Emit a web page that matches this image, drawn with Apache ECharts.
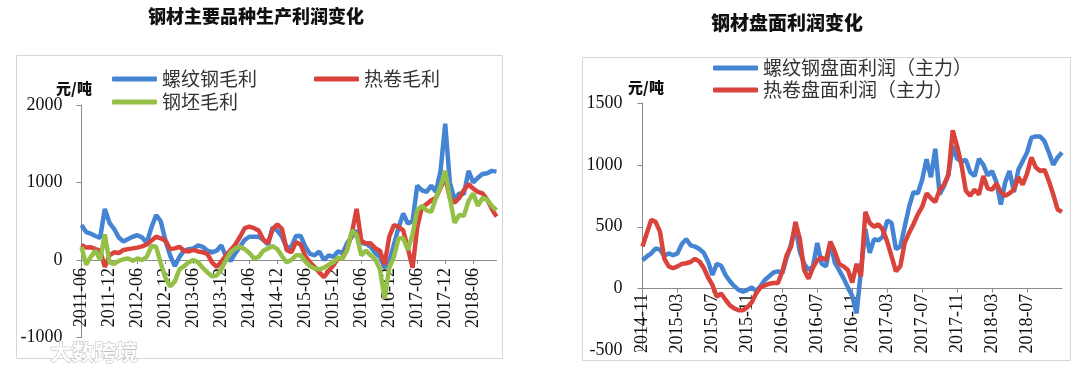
<!DOCTYPE html>
<html>
<head>
<meta charset="utf-8">
<script src="https://cdn.jsdelivr.net/npm/echarts@6/dist/echarts.min.js"></script>
<style>
html,body{margin:0;padding:0;background:#fff;}
#chart{width:1080px;height:373px;}
</style>
</head>
<body>
<div id="chart"></div>
<script>
// ---------- data (left chart: monthly 2011-06 .. 2018-11) ----------
const leftTickLabels = ['2011-06','2011-12','2012-06','2012-12','2013-06','2013-12','2014-06','2014-12','2015-06','2015-12','2016-06','2016-12','2017-06','2017-12','2018-06'];
const rebarGross = [450,360,340,310,285,660,480,400,290,240,
270,300,320,290,220,420,580,500,250,60,
-80,40,120,140,150,190,170,120,100,120,
190,40,-10,90,170,260,300,300,300,260,
200,420,380,300,160,170,310,310,170,80,
60,110,0,60,40,110,90,220,300,380,
220,210,170,90,40,-100,-20,200,420,600,
470,500,960,900,880,960,880,1150,1760,1000,
780,860,850,1150,1000,1060,1110,1120,1150,1140];
const hotCoilGross = [195,160,165,140,120,-90,60,100,90,130,
140,150,160,175,200,250,300,280,250,140,
150,170,120,110,130,110,100,80,-30,-90,
-20,60,130,200,300,410,430,410,380,260,
220,400,460,400,130,100,230,200,50,-30,
-90,-160,-220,-140,-70,20,30,150,350,660,
250,215,215,150,120,-60,300,450,430,380,
150,-100,420,680,720,770,800,930,1060,800,
740,800,900,980,920,880,860,780,660,560];
const billetGross = [170,-60,40,120,0,330,-30,-50,-10,10,
20,-10,20,0,40,180,170,-40,-230,-340,
-280,-120,-80,-30,0,-30,-100,-160,-210,-200,
-120,0,100,150,170,140,90,20,40,120,
150,180,140,50,-30,0,60,60,-20,-80,
-110,-120,-100,-60,-30,30,20,130,380,320,
60,120,60,10,-120,-500,-100,40,280,280,
130,330,640,700,640,620,800,950,1150,800,
480,580,570,760,860,700,800,780,700,640];

// ---------- data (right chart: half-monthly 2014-11 .. 2018-11) ----------
const rightTickLabels = ['2014-11','2015-03','2015-07','2015-11','2016-03','2016-07','2016-11','2017-03','2017-07','2017-11','2018-03','2018-07'];
const rebarFutures = [230,260,285,325,315,265,285,270,285,360,
400,350,340,320,290,220,110,200,185,110,
60,20,-10,-25,-10,10,-20,20,70,100,
130,140,125,250,360,500,300,200,150,180,
370,200,180,370,210,150,85,10,-60,
-200,150,480,290,400,390,420,550,530,320,
340,500,660,780,770,880,1045,900,1130,760,
830,920,1150,1050,1030,1040,940,910,1050,1000,
915,950,860,680,860,950,780,960,1030,1100,
1220,1230,1230,1190,1100,1000,1060,1100];
const hotCoilFutures = [340,450,555,540,460,240,180,165,180,200,
205,215,240,220,170,90,30,-65,-40,-90,
-135,-160,-175,-175,-150,-110,-40,10,25,40,
45,45,140,270,340,540,400,150,80,170,
230,250,230,380,300,200,180,150,50,
200,100,620,530,500,520,475,380,260,140,
180,370,450,520,600,660,770,730,700,800,
840,920,1280,1150,1000,790,750,800,760,910,
810,800,850,780,750,770,800,900,840,930,
1060,980,950,960,870,760,640,620];

// category strings
const leftCats = [];
for (let y = 2011, m = 6; leftCats.length < rebarGross.length; ) {
  leftCats.push(y + '-' + String(m).padStart(2, '0'));
  m++; if (m > 12) { m = 1; y++; }
}
const rightCats = [];
for (let y = 2014, m = 11; rightCats.length < rebarFutures.length; ) {
  const mm = y + '-' + String(m).padStart(2, '0');
  rightCats.push(mm + '-01');
  if (rightCats.length < rebarFutures.length) rightCats.push(mm + '-16');
  m++; if (m > 12) { m = 1; y++; }
}

const BLUE = '#4584D3', RED = '#D9433B', GREEN = '#94C047';
const AXIS = '#8a8a8a';
const NUMFONT = 'Liberation Serif';
const CJK = 'Noto Sans CJK SC';

// grid geometry
const LG = {left: 81.5, top: 105, width: 415, height: 232.5, min: -1000, max: 2000};
const RG = {left: 642.5, top: 103, width: 419.5, height: 247.5, min: -500, max: 1500};
// distance from grid bottom up to the value-0 line (x axis sits on zero)
const zeroOffset = g => -g.height * (0 - g.min) / (g.max - g.min);

const leftSet = new Set(leftTickLabels);
const rightSet = new Set(rightTickLabels);
const leftShow = (i, v) => leftSet.has(v);
const rightShow = (i, v) => v.endsWith('-01') && rightSet.has(v.slice(0, 7));

const chart = echarts.init(document.getElementById('chart'), null, {renderer: 'canvas'});

const legendText = {fontSize: 19, color: '#333', fontFamily: CJK, lineHeight: 20};

chart.setOption({
  animation: false,
  backgroundColor: '#fff',
  grid: [
    {left: LG.left, top: LG.top, width: LG.width, height: LG.height, containLabel: false, outerBoundsMode: 'none'},
    {left: RG.left, top: RG.top, width: RG.width, height: RG.height, containLabel: false, outerBoundsMode: 'none'}
  ],
  legend: [
    {data: ['螺纹钢毛利', '热卷毛利'], left: 112, top: 69, padding: 0, icon: 'roundRect', itemWidth: 45, itemHeight: 5, itemGap: 57, textStyle: legendText, selectedMode: false},
    {data: ['钢坯毛利'], left: 112, top: 92, padding: 0, icon: 'roundRect', itemWidth: 45, itemHeight: 5, textStyle: legendText, selectedMode: false},
    {data: ['螺纹钢盘面利润（主力）', '热卷盘面利润（主力）'], orient: 'vertical', left: 713, top: 58, padding: 0, icon: 'roundRect', itemWidth: 45, itemHeight: 5, itemGap: 2, textStyle: legendText, selectedMode: false}
  ],
  xAxis: [
    {gridIndex: 0, type: 'category', data: leftCats, boundaryGap: false, position: 'bottom', offset: zeroOffset(LG),
     axisLine: {onZero: false, lineStyle: {color: AXIS, width: 1}},
     axisTick: {show: true, interval: leftShow, length: 4, lineStyle: {color: AXIS}},
     axisLabel: {interval: leftShow, rotate: 90, margin: 8, fontFamily: NUMFONT, fontSize: 18, color: '#111'},
     splitLine: {show: false}},
    {gridIndex: 1, type: 'category', data: rightCats, boundaryGap: false, position: 'bottom', offset: zeroOffset(RG),
     axisLine: {onZero: false, lineStyle: {color: AXIS, width: 1}},
     axisTick: {show: true, interval: rightShow, length: 4, lineStyle: {color: AXIS}},
     axisLabel: {interval: rightShow, rotate: 90, margin: 5, fontFamily: NUMFONT, fontSize: 18, color: '#111', formatter: v => v.slice(0, 7)},
     splitLine: {show: false}}
  ],
  yAxis: [
    {gridIndex: 0, type: 'value', min: LG.min, max: LG.max, interval: 1000,
     axisLine: {show: true, lineStyle: {color: AXIS}},
     axisTick: {show: true, length: 5, lineStyle: {color: AXIS}},
     axisLabel: {margin: 19, fontFamily: NUMFONT, fontSize: 18, color: '#111', formatter: v => String(v)},
     splitLine: {show: false}},
    {gridIndex: 1, type: 'value', min: RG.min, max: RG.max, interval: 500,
     axisLine: {show: true, lineStyle: {color: AXIS}},
     axisTick: {show: true, length: 5, lineStyle: {color: AXIS}},
     axisLabel: {margin: 20, fontFamily: NUMFONT, fontSize: 18, color: '#111', formatter: v => String(v)},
     splitLine: {show: false}}
  ],
  series: [
    {name: '螺纹钢毛利', type: 'line', xAxisIndex: 0, yAxisIndex: 0, data: rebarGross, symbol: 'none', lineStyle: {width: 4.5, color: BLUE}, itemStyle: {color: BLUE}, emphasis: {disabled: true}},
    {name: '热卷毛利', type: 'line', xAxisIndex: 0, yAxisIndex: 0, data: hotCoilGross, symbol: 'none', lineStyle: {width: 4.5, color: RED}, itemStyle: {color: RED}, emphasis: {disabled: true}},
    {name: '钢坯毛利', type: 'line', xAxisIndex: 0, yAxisIndex: 0, data: billetGross, symbol: 'none', lineStyle: {width: 4.5, color: GREEN}, itemStyle: {color: GREEN}, emphasis: {disabled: true}},
    {name: '螺纹钢盘面利润（主力）', type: 'line', xAxisIndex: 1, yAxisIndex: 1, data: rebarFutures, symbol: 'none', lineStyle: {width: 4.5, color: BLUE}, itemStyle: {color: BLUE}, emphasis: {disabled: true}},
    {name: '热卷盘面利润（主力）', type: 'line', xAxisIndex: 1, yAxisIndex: 1, data: hotCoilFutures, symbol: 'none', lineStyle: {width: 4.5, color: RED}, itemStyle: {color: RED}, emphasis: {disabled: true}}
  ],
  graphic: [
    {type: 'rect', shape: {x: 16.5, y: 55.5, width: 486, height: 303}, style: {fill: 'none', stroke: '#d6d6d6', lineWidth: 1}, z: -1},
    {type: 'rect', shape: {x: 582.5, y: 57.5, width: 488, height: 303}, style: {fill: 'none', stroke: '#d6d6d6', lineWidth: 1}, z: -1},
    {type: 'text', x: 256, y: 16, style: {text: '钢材主要品种生产利润变化', align: 'center', verticalAlign: 'middle', fontSize: 18, fontWeight: 900, fontFamily: CJK, fill: '#111'}},
    {type: 'text', x: 787, y: 23, style: {text: '钢材盘面利润变化', align: 'center', verticalAlign: 'middle', fontSize: 19, fontWeight: 900, fontFamily: CJK, fill: '#111'}},
    {type: 'text', x: 74, y: 88, style: {text: '元/吨', align: 'center', verticalAlign: 'middle', fontSize: 15, fontWeight: 900, fontFamily: CJK, fill: '#111'}},
    {type: 'text', x: 646, y: 87, style: {text: '元/吨', align: 'center', verticalAlign: 'middle', fontSize: 15, fontWeight: 900, fontFamily: CJK, fill: '#111'}},
    {type: 'text', x: 50, y: 352, style: {text: '大数跨境', align: 'left', verticalAlign: 'middle', fontSize: 22, fontWeight: 700, fontFamily: CJK, fill: 'rgba(255,255,255,0.9)', stroke: '#bdbdbd', lineWidth: 1}, z: 100}
  ]
});
</script>
</body>
</html>
